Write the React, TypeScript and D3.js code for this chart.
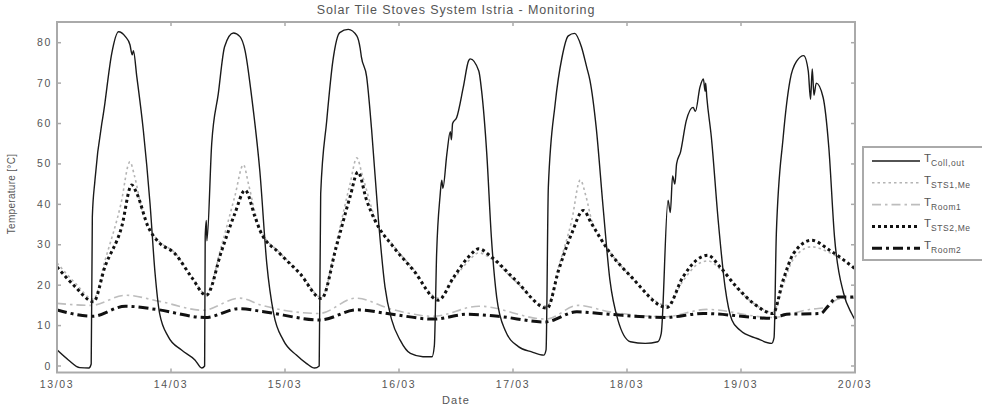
import React from "react";
import * as d3 from "d3";

// ---- data (x in days since 13/03 00:00) ----
const dateLabels = ["13/03", "14/03", "15/03", "16/03", "17/03", "18/03", "19/03", "20/03"];
const yTicks = [0, 10, 20, 30, 40, 50, 60, 70, 80];

const collTime = [0, 0.1, 0.2, 0.28, 0.3, 0.31, 0.333, 0.42, 0.48, 0.54, 0.6, 0.64, 0.66, 0.67, 0.7, 0.757, 0.816, 0.86, 0.9, 0.977, 1.09, 1.21, 1.27, 1.295, 1.3, 1.31, 1.315, 1.357, 1.415, 1.47, 1.547, 1.605, 1.65, 1.708, 1.78, 1.84, 1.9, 1.985, 2.1, 2.19, 2.26, 2.3, 2.313, 2.366, 2.42, 2.48, 2.555, 2.63, 2.66, 2.67, 2.716, 2.76, 2.82, 2.877, 2.936, 3.01, 3.1, 3.21, 3.29, 3.31, 3.33, 3.36, 3.375, 3.385, 3.42, 3.45, 3.46, 3.47, 3.506, 3.564, 3.61, 3.625, 3.7, 3.725, 3.77, 3.81, 3.857, 3.93, 4.047, 4.164, 4.27, 4.29, 4.31, 4.37, 4.43, 4.485, 4.54, 4.6, 4.646, 4.675, 4.73, 4.79, 4.85, 4.92, 5.03, 5.16, 5.27, 5.3, 5.36, 5.38, 5.4, 5.42, 5.435, 5.47, 5.52, 5.58, 5.6, 5.64, 5.67, 5.685, 5.69, 5.7, 5.74, 5.8, 5.86, 5.92, 5.99, 6.14, 6.27, 6.29, 6.31, 6.37, 6.43, 6.49, 6.55, 6.59, 6.61, 6.625, 6.64, 6.66, 6.72, 6.77, 6.82, 6.9, 6.97, 7.0];
const collValues = [4.0, 1.5, -0.4, -0.5, 0.5, 37, 46, 65, 77.3, 82.7, 81.5, 79.5, 77, 78, 71.6, 58.4, 40.2, 23, 13, 7.2, 4, 1.5, -0.5, 0, 32, 36, 31, 55, 67.4, 79, 82.4, 81.5, 78, 66.5, 48, 25.4, 13, 6.4, 2.7, 0.6, -0.5, 0, 42.6, 60.7, 75.5, 82.5, 83.3, 81.7, 78.5, 76.5, 71.6, 58.4, 36, 19.6, 11.4, 6.4, 3.1, 2.3, 2.3, 5, 27.8, 42, 46, 44, 52.5, 58, 56, 60, 61.5, 69, 75.5, 76, 73, 68, 52.5, 32, 17, 8.9, 4.8, 3.5, 2.7, 4, 44.3, 64.9, 76.4, 81.7, 82.3, 79, 74, 70.7, 59, 39.4, 21.3, 11.4, 6, 5.6, 6, 8, 41, 38, 47, 45, 50, 53, 60.7, 64, 63, 69, 71, 68, 70, 66.5, 56.6, 36, 19.6, 11.4, 8.9, 6.8, 5.6, 7, 32.8, 56.6, 70.7, 75.5, 76.8, 73, 66, 73.5, 67, 70, 66.5, 54.2, 32, 18, 13, 11.4];

const sts1Time = [0, 0.16, 0.32, 0.42, 0.56, 0.64, 0.68, 0.75, 0.8, 0.89, 1.035, 1.18, 1.31, 1.445, 1.56, 1.635, 1.68, 1.737, 1.78, 1.956, 2.13, 2.32, 2.45, 2.57, 2.63, 2.68, 2.79, 2.95, 3.126, 3.345, 3.48, 3.61, 3.7, 3.81, 4.02, 4.3, 4.4, 4.515, 4.59, 4.64, 4.69, 4.836, 5.04, 5.35, 5.49, 5.61, 5.71, 5.816, 5.96, 6.11, 6.28, 6.37, 6.46, 6.62, 6.78, 7.0];
const sts1Values = [25.5, 20.5, 16.5, 26, 40, 50.5, 47, 38, 34.5, 31, 28, 22.2, 17.8, 30, 42, 49.8, 45, 38, 34, 28, 23.2, 17, 30.5, 45, 51.5, 47, 36.5, 29.8, 24, 16.8, 21.5, 26, 28, 26.5, 21, 14.8, 24.5, 36, 46, 42, 36, 28.8, 22, 15, 21, 25, 26, 24, 19.3, 15.5, 13.3, 20, 26.5, 29.5, 28, 24];

const room1Time = [0, 0.3, 0.6, 0.9, 1.28, 1.6, 1.8, 2.3, 2.62, 2.94, 3.3, 3.7, 4.29, 4.57, 4.85, 5.33, 5.7, 6.27, 6.6, 6.75, 6.85, 7.0];
const room1Values = [15.5, 15.0, 17.5, 16.0, 13.8, 16.8, 15.0, 13.0, 16.8, 14.0, 12.3, 14.8, 11.6, 15.0, 13.4, 12.2, 14.0, 12.0, 14.0, 14.5, 16.5, 16.8];

const sts2Time = [0, 0.16, 0.32, 0.42, 0.567, 0.655, 0.7, 0.8, 0.89, 1.035, 1.18, 1.31, 1.445, 1.56, 1.65, 1.737, 1.78, 1.956, 2.13, 2.32, 2.45, 2.57, 2.64, 2.716, 2.79, 2.95, 3.126, 3.345, 3.48, 3.61, 3.7, 3.81, 4.02, 4.3, 4.4, 4.515, 4.617, 4.69, 4.836, 5.04, 5.35, 5.49, 5.61, 5.71, 5.816, 5.96, 6.11, 6.28, 6.37, 6.46, 6.62, 6.78, 7.0];
const sts2Values = [24.5, 19.6, 15.9, 24.5, 34.4, 44.8, 42.7, 34.4, 30.7, 27.8, 22, 17.5, 28.6, 37.7, 43.5, 36.9, 33.6, 27.8, 22.9, 16.7, 29.5, 41.8, 48, 41, 36, 29.5, 23.7, 16.3, 22, 27, 29, 27, 21.3, 14.3, 23.7, 32.8, 38.5, 35.2, 28.6, 22, 14.5, 22, 26.2, 27.4, 24.5, 19.6, 15.5, 13, 21.3, 27.8, 31.1, 28.6, 24.1];

const room2Time = [0, 0.31, 0.6, 0.87, 1.3, 1.6, 1.8, 2.31, 2.63, 2.94, 3.3, 3.6, 3.87, 4.28, 4.56, 4.84, 5.33, 5.67, 6.27, 6.4, 6.7, 6.76, 6.85, 7.0];
const room2Values = [13.9, 12.3, 14.8, 14.0, 12.0, 14.2, 13.5, 11.4, 13.9, 12.8, 11.6, 12.8, 12.3, 10.9, 13.4, 12.8, 12.0, 13.0, 11.8, 12.8, 13.0, 14.7, 17.1, 17.1];

const seriesNames = ["Coll,out", "STS1,Me", "Room1", "STS2,Me", "Room2"];

// ---- styles ----
const W = 982;
const H = 409;
const plot = { left: 57, right: 855, top: 22, bottom: 372.5 };
const font = "'Liberation Sans', Arial, Helvetica, sans-serif";
const textColor = "#555555";
const axisColor = "#aaaaaa";

const styles = [
  { stroke: "#1a1a1a", width: 1.4, dash: "none" },
  { stroke: "#b4b4b4", width: 1.6, dash: "2.5,3" },
  { stroke: "#bdbdbd", width: 1.6, dash: "9,4,2.5,4" },
  { stroke: "#111111", width: 3, dash: "3,3" },
  { stroke: "#111111", width: 3, dash: "10,4,3,4" },
];

export default function App() {
  const x = d3.scaleLinear().domain([0, 7]).range([plot.left, plot.right]);
  const y = d3.scaleLinear().domain([0, 80]).range([366, 42.7]);

  const series = [
    { t: collTime, v: collValues },
    { t: sts1Time, v: sts1Values },
    { t: room1Time, v: room1Values },
    { t: sts2Time, v: sts2Values },
    { t: room2Time, v: room2Values },
  ];

  const line = d3
    .line<[number, number]>()
    .x((d) => x(d[0]))
    .y((d) => y(d[1]))
    .curve(d3.curveMonotoneX);

  const xTickVals = d3.range(dateLabels.length);
  const tickLen = 4;

  const legendX = 863;
  const legendY = 147;
  const legendRowH = 21.8;

  return (
    <svg width={W} height={H} style={{ position: "absolute", left: 0, top: 0, background: "#fff" }}>
      <rect x={0} y={0} width={W} height={H} fill="#fff" />
      <defs>
        <clipPath id="plotClip">
          <rect x={plot.left} y={plot.top} width={plot.right - plot.left} height={plot.bottom - plot.top} />
        </clipPath>
      </defs>

      {/* series */}
      <g clipPath="url(#plotClip)">
        {[1, 2, 3, 4, 0].map((i) => {
          const s = series[i];
          const pts = s.t.map((t, k) => [t, s.v[k]] as [number, number]);
          return (
            <path
              key={i}
              d={line(pts) || ""}
              fill="none"
              stroke={styles[i].stroke}
              strokeWidth={styles[i].width}
              strokeDasharray={styles[i].dash}
              strokeLinejoin="round"
            />
          );
        })}
      </g>

      {/* axes box */}
      <rect
        x={plot.left}
        y={plot.top}
        width={plot.right - plot.left}
        height={plot.bottom - plot.top}
        fill="none"
        stroke={axisColor}
        strokeWidth={2}
      />

      {/* x ticks */}
      {xTickVals.map((v) => (
        <g key={"xt" + v}>
          <line x1={x(v)} x2={x(v)} y1={plot.bottom} y2={plot.bottom - tickLen} stroke={axisColor} strokeWidth={1.5} />
          <line x1={x(v)} x2={x(v)} y1={plot.top} y2={plot.top + tickLen} stroke={axisColor} strokeWidth={1.5} />
          <text x={x(v)} y={388} textAnchor="middle" fontFamily={font} fontSize={10.5} letterSpacing={1.6} fill={textColor}>
            {dateLabels[v]}
          </text>
        </g>
      ))}

      {/* y ticks */}
      {yTicks.map((v) => (
        <g key={"yt" + v}>
          <line x1={plot.left} x2={plot.left + tickLen} y1={y(v)} y2={y(v)} stroke={axisColor} strokeWidth={1.5} />
          <line x1={plot.right} x2={plot.right - tickLen} y1={y(v)} y2={y(v)} stroke={axisColor} strokeWidth={1.5} />
          <text x={52} y={y(v) + 3.5} textAnchor="end" fontFamily={font} fontSize={10.5} letterSpacing={1.6} fill={textColor}>
            {v}
          </text>
        </g>
      ))}

      {/* title & axis labels */}
      <text x={(plot.left + plot.right) / 2} y={14} textAnchor="middle" fontFamily={font} fontSize={12.5} letterSpacing={0.9} fill={textColor}>
        Solar Tile Stoves System Istria - Monitoring
      </text>
      <text x={(plot.left + plot.right) / 2} y={404} textAnchor="middle" fontFamily={font} fontSize={11} letterSpacing={1.2} fill={textColor}>
        Date
      </text>
      <text
        transform={`translate(15, 194) rotate(-90)`}
        textAnchor="middle"
        fontFamily={font}
        fontSize={10}
        letterSpacing={0.3}
        fill={textColor}
      >
        Temperature [°C]
      </text>

      {/* legend */}
      <rect x={legendX} y={legendY} width={140} height={113} fill="#fff" stroke={axisColor} strokeWidth={2} />
      {seriesNames.map((name, i) => {
        const cy = legendY + 14 + i * legendRowH;
        return (
          <g key={"lg" + i}>
            <line
              x1={872}
              x2={920}
              y1={cy}
              y2={cy}
              stroke={styles[i].stroke}
              strokeWidth={styles[i].width}
              strokeDasharray={styles[i].dash}
            />
            <text x={924} y={cy + 1} fontFamily={font} fontSize={11.5} fill={textColor}>
              T
              <tspan fontSize={8.5} letterSpacing={0.6} dy={4}>
                {name}
              </tspan>
            </text>
          </g>
        );
      })}
    </svg>
  );
}
